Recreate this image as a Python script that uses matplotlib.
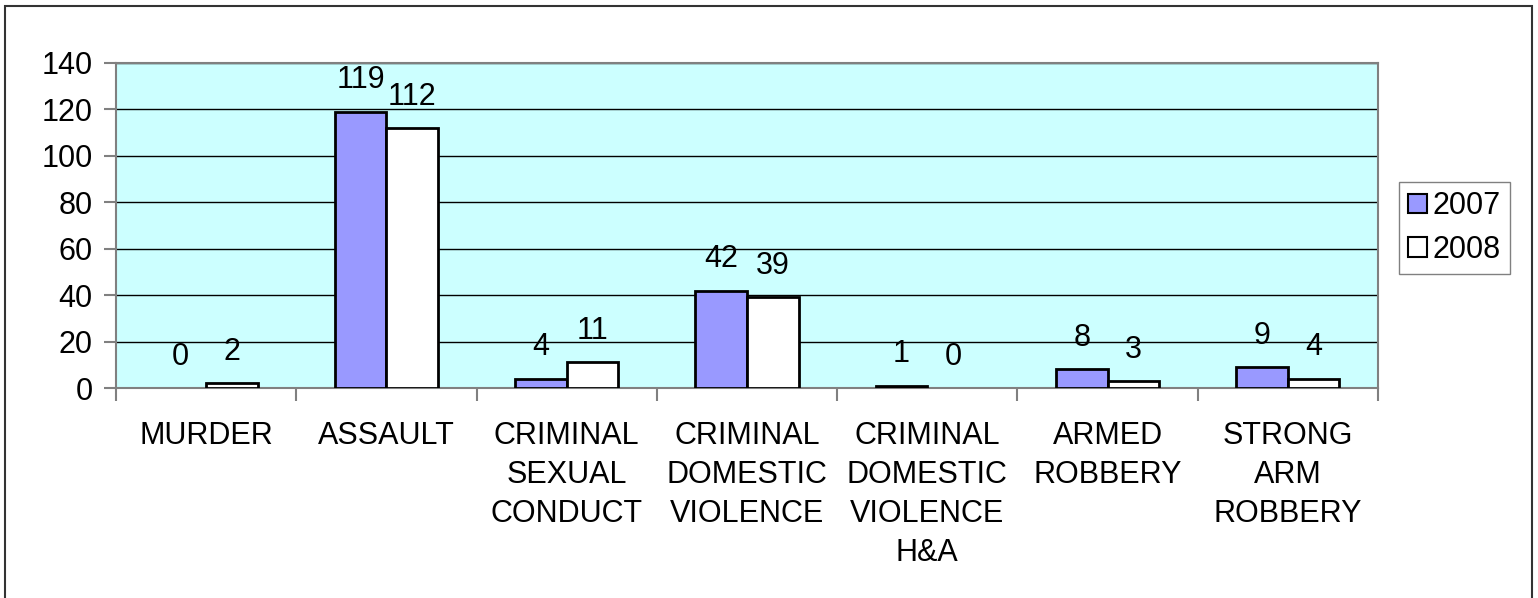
import numpy as np
import matplotlib
matplotlib.use("Agg")
from matplotlib import pyplot as plt
from matplotlib.patches import Patch, Rectangle

# values
categories = ["MURDER", "ASSAULT", "CRIMINAL\nSEXUAL\nCONDUCT", "CRIMINAL\nDOMESTIC\nVIOLENCE",
              "CRIMINAL\nDOMESTIC\nVIOLENCE\nH&A", "ARMED\nROBBERY", "STRONG\nARM\nROBBERY"]
y2007 = [0, 119, 4, 42, 1, 8, 9]
y2008 = [2, 112, 11, 39, 0, 3, 4]
series_names = ["2007", "2008"]
yticks = [0, 20, 40, 60, 80, 100, 120, 140]

plt.rcParams['font.family'] = ['Liberation Sans', 'DejaVu Sans']
plt.rcParams['font.size'] = 22

W, H = 1538, 598
fig = plt.figure(figsize=(W / 100, H / 100), dpi=100)
ax = fig.add_axes([116 / W, (H - 388) / H, (1378 - 116) / W, (388 - 63) / H])
ax.set_facecolor("#CCFFFF")

x = np.arange(len(categories))
bw = 1 / 3.5
b1 = ax.bar(x - bw / 2, y2007, bw, color="#9999FF", edgecolor="black", linewidth=2, zorder=3)
b2 = ax.bar(x + bw / 2, y2008, bw, color="white", edgecolor="black", linewidth=2, zorder=3)

# data labels; zero bars get no outline
for bars, vals in ((b1, y2007), (b2, y2008)):
    for b, v in zip(bars, vals):
        if v == 0:
            b.set_linewidth(0)
        ax.annotate(str(v), (b.get_x() + b.get_width() / 2, v), xytext=(0, 22.5),
                    textcoords="offset points", ha="center", va="center", fontsize=22, zorder=2)

ax.set_xlim(-0.5, len(categories) - 0.5)
ax.set_ylim(0, 140)
ax.set_yticks(yticks)
ax.grid(axis="y", color="black", linewidth=1, zorder=1)

ax.set_xticks(x)
ax.set_xticklabels(categories, linespacing=1.38)
ax.set_xticks(np.arange(len(categories) + 1) - 0.5, minor=True)
ax.tick_params(axis="x", which="major", length=0, pad=24)
ax.tick_params(axis="x", which="minor", length=9, width=1.5, color="#808080")
ax.tick_params(axis="y", length=9, width=1.5, color="#808080", pad=8)
for s in ax.spines.values():
    s.set_color("#808080")
    s.set_linewidth(1.5)

handles = [Patch(facecolor="#9999FF", edgecolor="black", linewidth=1.5),
           Patch(facecolor="white", edgecolor="black", linewidth=1.5)]
leg = fig.legend(handles, series_names, loc="upper left", bbox_to_anchor=(1399 / W, 1 - 182 / H),
                 frameon=True, fancybox=False, edgecolor="#808080", framealpha=1,
                 handlelength=0.6, handleheight=0.6, handletextpad=0.2, borderpad=0.3,
                 labelspacing=0.45, fontsize=22, borderaxespad=0)
leg.get_frame().set_linewidth(1)

# outer chart border
fig.patches.append(Rectangle((5 / W, -0.05), (1532 - 5) / W, 1.05 - 6 / H, transform=fig.transFigure,
                             fill=False, edgecolor="#333333", linewidth=1.5))

fig.savefig("out.png", dpi=100)
